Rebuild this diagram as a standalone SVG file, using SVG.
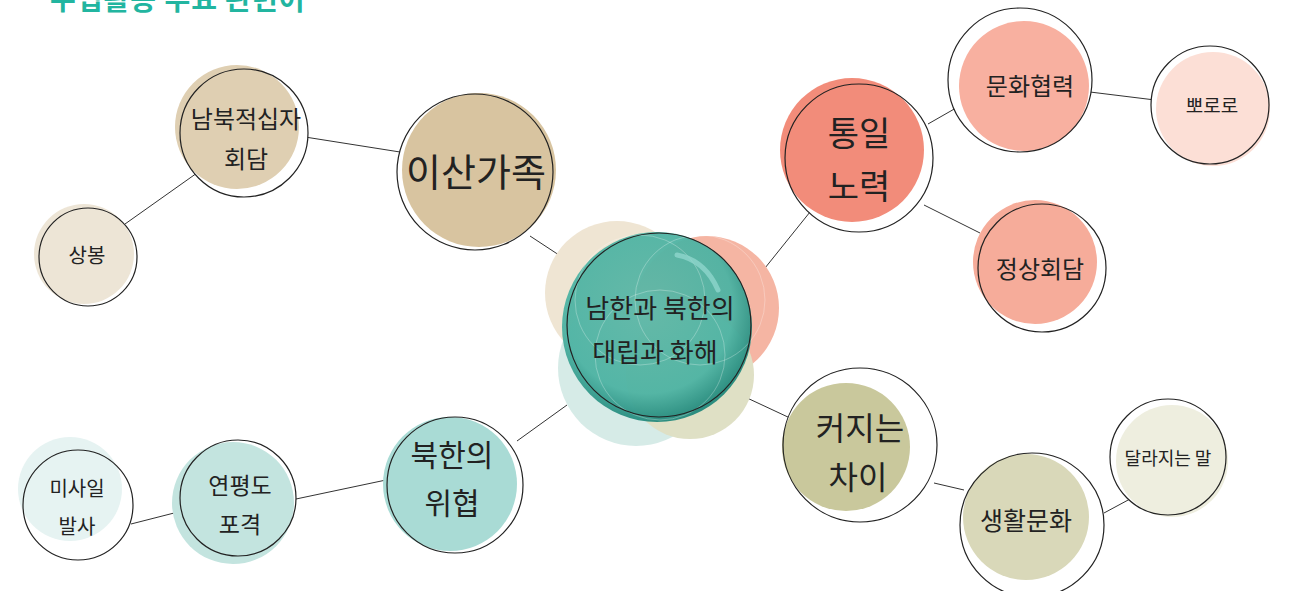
<svg xmlns="http://www.w3.org/2000/svg" width="1291" height="591" viewBox="0 0 1291 591">
<defs>
<style>
.ol{fill:none;stroke:#222;stroke-width:1.2}
.bg{fill:#fff;stroke:none}
.t{font-family:"Noto Sans CJK KR","Noto Sans",sans-serif;fill:#222;text-anchor:middle;font-weight:400}
.c{stroke:#333;stroke-width:1;fill:none}
</style>
<radialGradient id="tg" cx="0.45" cy="0.4" r="0.6">
<stop offset="0" stop-color="#5fb7a6"/>
<stop offset="0.75" stop-color="#4db3a3"/>
<stop offset="1" stop-color="#23897c"/>
</radialGradient>
</defs>
<text x="50" y="10" style="font-family:'Noto Sans CJK KR',sans-serif;font-size:28px;font-weight:700;fill:#22b5a0;letter-spacing:1px">수업활용 주요 관련어</text>
<g id="connectors">
<line class="c" x1="125" y1="224" x2="197" y2="173"/>
<line class="c" x1="305" y1="137" x2="400" y2="152"/>
<line class="c" x1="530" y1="236" x2="562" y2="257"/>
<line class="c" x1="765" y1="268" x2="810" y2="212"/>
<line class="c" x1="928" y1="124" x2="956" y2="108"/>
<line class="c" x1="924" y1="205" x2="980" y2="233"/>
<line class="c" x1="1090" y1="92" x2="1155" y2="100"/>
<line class="c" x1="745" y1="397" x2="790" y2="418"/>
<line class="c" x1="934" y1="483" x2="964" y2="490"/>
<line class="c" x1="1104" y1="513" x2="1130" y2="499"/>
<line class="c" x1="567" y1="405" x2="517" y2="441"/>
<line class="c" x1="386" y1="480" x2="296" y2="499"/>
<line class="c" x1="178" y1="512" x2="131" y2="524"/>
</g>
<g id="n-center">
<circle cx="617" cy="293" r="72" fill="#efe5d3"/>
<circle cx="707" cy="308" r="72" fill="#f5b5a3"/>
<circle cx="636" cy="368" r="78" fill="#d6ebe7"/>
<circle cx="690" cy="375" r="64" fill="#dfe0c5"/>
<circle cx="657" cy="327" r="95" fill="url(#tg)" opacity="0.95"/>
<g fill="none" stroke="#ffffff" stroke-opacity="0.35" stroke-width="0.8">
<circle cx="700" cy="300" r="65"/>
<circle cx="640" cy="300" r="65"/>
<circle cx="660" cy="355" r="65"/>
</g>
<path d="M677 255 Q705 260 718 290" fill="none" stroke="#8fd6cc" stroke-width="5" stroke-linecap="round" opacity="0.8"/>
<circle class="ol" cx="659" cy="325" r="92"/>
<text class="t" x="660" y="318" font-size="26">남한과 북한의</text>
<text class="t" x="655" y="362" font-size="26">대립과 화해</text>
</g>
<g id="n-isan">
<circle class="bg" cx="475" cy="172" r="78"/>
<circle cx="479" cy="170" r="77" fill="#d8c4a0"/>
<circle class="ol" cx="475" cy="172" r="78"/>
<text class="t" x="476" y="186" font-size="38">이산가족</text>
</g>
<g id="n-redcross">
<circle class="bg" cx="244" cy="133" r="64"/>
<circle cx="237" cy="127" r="62" fill="#dfcfb2"/>
<circle class="ol" cx="244" cy="133" r="64"/>
<text class="t" x="246" y="128" font-size="24">남북적십자</text>
<text class="t" x="246" y="168" font-size="24">회담</text>
</g>
<g id="n-sangbong">
<circle class="bg" cx="88" cy="257" r="49"/>
<circle cx="84" cy="254" r="50" fill="#ede5d6"/>
<circle class="ol" cx="88" cy="257" r="49"/>
<text class="t" x="87" y="263" font-size="20">상봉</text>
</g>
<g id="n-unify">
<circle class="bg" cx="859" cy="158" r="74"/>
<circle cx="852" cy="150" r="72" fill="#f28c7a"/>
<circle class="ol" cx="859" cy="158" r="74"/>
<text class="t" x="859" y="146" font-size="34">통일</text>
<text class="t" x="859" y="199" font-size="34">노력</text>
</g>
<g id="n-culture">
<circle class="bg" cx="1020" cy="80" r="72"/>
<circle cx="1024" cy="86" r="65" fill="#f8b0a0"/>
<circle class="ol" cx="1020" cy="80" r="72"/>
<text class="t" x="1030" y="95" font-size="24">문화협력</text>
</g>
<g id="n-pororo">
<circle class="bg" cx="1210" cy="105" r="59"/>
<circle cx="1213" cy="109" r="57" fill="#fcdfd6"/>
<circle class="ol" cx="1210" cy="105" r="59"/>
<text class="t" x="1212" y="113" font-size="19">뽀로로</text>
</g>
<g id="n-summit">
<circle class="bg" cx="1042" cy="268" r="64"/>
<circle cx="1035" cy="262" r="62" fill="#f6ac9a"/>
<circle class="ol" cx="1042" cy="268" r="64"/>
<text class="t" x="1040" y="278" font-size="24">정상회담</text>
</g>
<g id="n-gap">
<circle class="bg" cx="860" cy="445" r="77"/>
<circle cx="846" cy="447" r="64" fill="#c9c89c"/>
<circle class="ol" cx="860" cy="445" r="77"/>
<text class="t" x="860" y="440" font-size="32">커지는</text>
<text class="t" x="858" y="489" font-size="32">차이</text>
</g>
<g id="n-life">
<circle class="bg" cx="1032" cy="525" r="72"/>
<circle cx="1026" cy="517" r="63" fill="#d9d8b9"/>
<circle class="ol" cx="1032" cy="525" r="72"/>
<text class="t" x="1026" y="530" font-size="25">생활문화</text>
</g>
<g id="n-words">
<circle class="bg" cx="1168" cy="457" r="58"/>
<circle cx="1172" cy="461" r="56" fill="#eeeedf"/>
<circle class="ol" cx="1168" cy="457" r="58"/>
<text class="t" x="1168" y="465" font-size="18">달라지는 말</text>
</g>
<g id="n-threat">
<circle class="bg" cx="455" cy="485" r="68"/>
<circle cx="450" cy="484" r="67" fill="#a9dbd5"/>
<circle class="ol" cx="455" cy="485" r="68"/>
<text class="t" x="452" y="466" font-size="30">북한의</text>
<text class="t" x="452" y="514" font-size="30">위협</text>
</g>
<g id="n-yeonpyeong">
<circle class="bg" cx="238" cy="498" r="58"/>
<circle cx="233" cy="503" r="61" fill="#c3e4df"/>
<circle class="ol" cx="238" cy="498" r="58"/>
<text class="t" x="240" y="494" font-size="23">연평도</text>
<text class="t" x="240" y="533" font-size="23">포격</text>
</g>
<g id="n-missile">
<circle class="bg" cx="78" cy="505" r="55"/>
<circle cx="70" cy="489" r="52" fill="#e6f3f2"/>
<circle class="ol" cx="78" cy="505" r="55"/>
<text class="t" x="77" y="496" font-size="20">미사일</text>
<text class="t" x="77" y="534" font-size="20">발사</text>
</g>
</svg>
